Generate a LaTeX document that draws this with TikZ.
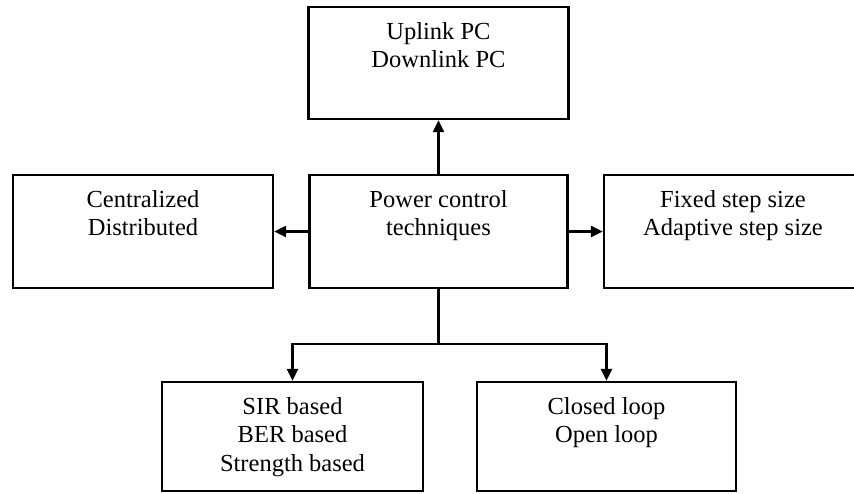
\documentclass[tikz,border=0pt]{standalone}
\usepackage{fontspec}
\setmainfont{Liberation Serif}
\usetikzlibrary{arrows.meta}

\begin{document}
\begin{tikzpicture}[
  x=1pt, y=-1pt,
  box/.style={draw, line width=2.4pt, inner sep=0pt},
  label text/.style={anchor=north, inner sep=0pt, align=center,
    font=\fontsize{24.5}{28.7}\selectfont},
  link/.style={line width=2.5pt},
  arrowlink/.style={link, -{Triangle[length=12pt,width=11pt]}}
]
\useasboundingbox (0,0) rectangle (854,493);

% boxes
\node[box, minimum width=260pt, minimum height=112pt] (updown) at (438.5,63) {};
\node[box, minimum width=258pt, minimum height=113pt] (pc)     at (438.5,231.5) {};
\node[box, minimum width=260pt, minimum height=113pt] (arch)   at (143,231.5) {};
\node[box, minimum width=258pt, minimum height=113pt] (stepsz) at (733,231.5) {};
\node[box, minimum width=261pt, minimum height=109pt] (metric) at (292.5,436.5) {};
\node[box, minimum width=259pt, minimum height=109pt] (loop)   at (606.5,436.5) {};

% box texts
\node[label text] (t-updown) at ([yshift=-16pt]updown.north) {Uplink PC\\Downlink PC};
\node[label text] (t-pc)     at ([yshift=-16pt]pc.north)     {Power control\\techniques};
\node[label text] (t-arch)   at ([yshift=-16pt]arch.north)   {Centralized\\Distributed};
\node[label text] (t-stepsz) at ([yshift=-16pt]stepsz.north) {Fixed step size\\Adaptive step size};
\node[label text] (t-metric) at ([yshift=-16pt]metric.north) {SIR based\\BER based\\Strength based};
\node[label text] (t-loop)   at ([yshift=-16pt]loop.north)   {Closed loop\\Open loop};

% connectors
\coordinate (split) at (pc.south |- 0,344);
\draw[arrowlink] (pc.north) -- (updown.south);
\draw[arrowlink] (pc.west) -- (arch.east);
\draw[arrowlink] (pc.east) -- (stepsz.west);
\draw[link] (pc.south) -- (split);
\draw[arrowlink] (split) -| (metric.north);
\draw[arrowlink] (split) -| (loop.north);
\end{tikzpicture}
\end{document}
